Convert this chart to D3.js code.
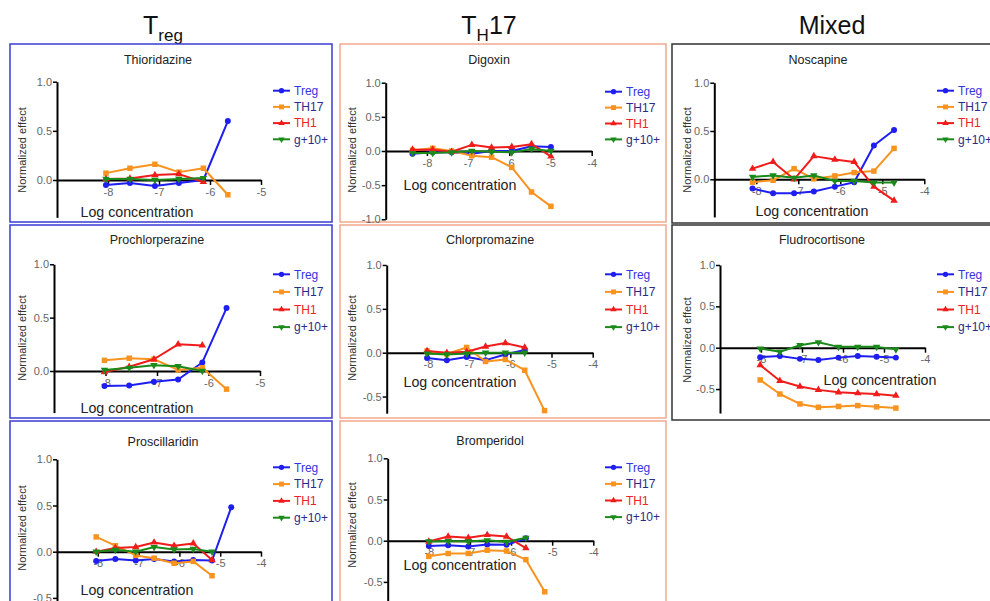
<!DOCTYPE html>
<html>
<head>
<meta charset="utf-8">
<script src="https://cdn.jsdelivr.net/npm/d3@7"></script>
<style>
body { margin: 0; background: #fff; }
text { font-family: "Liberation Sans", Arial, sans-serif; }
</style>
</head>
<body>
<svg id="chart" width="990" height="601"></svg>
<script>
const seriesNames = ["Treg", "TH17", "TH1", "g+10+"];
const drugNames = ["Thioridazine", "Prochlorperazine", "Proscillaridin",
                   "Digoxin", "Chlorpromazine", "Bromperidol",
                   "Noscapine", "Fludrocortisone"];

// log10 concentration of each dose, then one row per series (Treg, TH17, TH1, g+10+)
const thioridazineX = [-8.04, -7.57, -7.08, -6.61, -6.13, -5.65];
const thioridazineY = [
  [-0.05, -0.03, -0.06, -0.03, 0.0, 0.6],
  [0.07, 0.12, 0.16, 0.08, 0.12, -0.15],
  [0.01, 0.015, 0.05, 0.06, -0.02],
  [0.01, 0.01, 0.0, 0.01, 0.02]
];
const prochlorperazineX = [-8.02, -7.54, -7.06, -6.59, -6.12, -5.65];
const prochlorperazineY = [
  [-0.14, -0.135, -0.1, -0.08, 0.08, 0.59],
  [0.1, 0.12, 0.11, 0.01, 0.03, -0.17],
  [-0.01, 0.04, 0.11, 0.25, 0.24],
  [0.01, 0.03, 0.055, 0.045, 0.0]
];
const proscillaridinX = [-8.04, -7.57, -7.07, -6.62, -6.13, -5.66, -5.2, -4.73];
const proscillaridinY = [
  [-0.1, -0.08, -0.095, -0.08, -0.105, -0.09, -0.095, 0.48],
  [0.16, 0.065, -0.04, -0.07, -0.125, -0.105, -0.26],
  [0.0, 0.04, 0.05, 0.1, 0.065, 0.09, -0.09],
  [0.0, 0.02, 0.0, 0.05, 0.025, 0.03, 0.0]
];
const digoxinX = [-8.35, -7.86, -7.4, -6.91, -6.43, -5.94, -5.46, -4.99];
const digoxinY = [
  [-0.04, -0.02, -0.02, -0.04, 0.0, 0.0, 0.07, 0.06],
  [0.01, 0.04, 0.0, -0.07, -0.09, -0.24, -0.6, -0.81],
  [0.02, 0.02, -0.01, 0.09, 0.05, 0.06, 0.1, -0.08],
  [-0.03, -0.03, -0.02, 0.0, -0.01, -0.02, 0.03, 0.0]
];
const chlorpromazineX = [-8.02, -7.54, -7.06, -6.6, -6.12, -5.65, -5.17];
const chlorpromazineY = [
  [-0.06, -0.085, -0.05, -0.085, -0.02, 0.03],
  [0.02, -0.015, 0.06, -0.1, -0.077, -0.2, -0.66],
  [0.02, 0.0, 0.01, 0.07, 0.11, 0.06],
  [-0.01, -0.02, -0.01, 0.0, 0.0, 0.0]
];
const bromperidolX = [-8.0, -7.53, -7.04, -6.58, -6.11, -5.64, -5.18];
const bromperidolY = [
  [-0.065, -0.055, -0.07, -0.045, -0.05, 0.03],
  [-0.19, -0.155, -0.155, -0.115, -0.125, -0.23, -0.62],
  [-0.01, 0.05, 0.035, 0.07, 0.05, -0.09],
  [-0.01, -0.005, -0.01, 0.005, -0.015, 0.035]
];
const noscapineX = [-8.09, -7.6, -7.1, -6.63, -6.13, -5.67, -5.2, -4.72];
const noscapineY = [
  [-0.095, -0.145, -0.145, -0.127, -0.076, -0.03, 0.35, 0.51],
  [-0.03, -0.01, 0.11, 0.005, 0.035, 0.07, 0.085, 0.32],
  [0.11, 0.18, 0.0, 0.24, 0.205, 0.18, -0.076, -0.22],
  [0.025, 0.04, 0.015, 0.04, -0.017, -0.017, -0.034, -0.034]
];
const fludrocortisoneX = [-8.02, -7.54, -7.05, -6.6, -6.11, -5.64, -5.18, -4.71];
const fludrocortisoneY = [
  [-0.115, -0.1, -0.135, -0.15, -0.12, -0.1, -0.11, -0.12],
  [-0.39, -0.56, -0.68, -0.72, -0.71, -0.7, -0.715, -0.73],
  [-0.21, -0.4, -0.47, -0.51, -0.54, -0.55, -0.56, -0.58],
  [-0.01, -0.05, 0.03, 0.065, 0.01, 0.01, 0.01, -0.02]
];

const drugX = [thioridazineX, prochlorperazineX, proscillaridinX, digoxinX,
               chlorpromazineX, bromperidolX, noscapineX, fludrocortisoneX];
const drugY = [thioridazineY, prochlorperazineY, proscillaridinY, digoxinY,
               chlorpromazineY, bromperidolY, noscapineY, fludrocortisoneY];

const lineColors = ["#1e1ef0", "#f7931e", "#f01c1c", "#1b8a1b"];
const legendColors = ["#3535e0", "#2b2b85", "#ee2222", "#2b2b85"];
const markers = [d3.symbolCircle, d3.symbolSquare, d3.symbolTriangle, d3.symbolTriangle];
const markerSizes = [28, 30, 24, 24];
const borderColors = ["#3b3bd6", "#f4a88e", "#333333"];

// panel geometry (pixels), one per drug
const panels = [
  {col: 0, box: [10, 44, 322, 178], ax: 57, xMax: -5, xEnd: 261, yTop: 81.7, yZero: 180, yMin: -0.38,
   title: [158, 64], logLab: [137, 217], yLab: [22, 150], legend: [273, 90.7, 16.2]},
  {col: 0, box: [10, 225, 322, 193], ax: 54, xMax: -5, xEnd: 260, yTop: 264.3, yZero: 371, yMin: -0.39,
   title: [157, 244], logLab: [137, 413], yLab: [22, 338], legend: [273, 274.3, 17.6]},
  {col: 0, box: [10, 421, 322, 200], ax: 57, xMax: -4, xEnd: 261, yTop: 459.3, yZero: 551.7, yMin: -0.55,
   title: [163, 446], logLab: [137, 595], yLab: [22, 528], legend: [273, 467.3, 16.8]},
  {col: 1, box: [340, 44, 326, 178], ax: 385.7, xMax: -4, xEnd: 591.7, yTop: 82.7, yZero: 151, yMin: -1,
   title: [489, 64], logLab: [460, 190], yLab: [352, 150], legend: [605, 91.7, 15.9]},
  {col: 1, box: [340, 225, 326, 193], ax: 386.7, xMax: -4, xEnd: 592.7, yTop: 265, yZero: 352.7, yMin: -0.69,
   title: [490, 244], logLab: [460, 387], yLab: [352, 338], legend: [605, 274.3, 17.6]},
  {col: 1, box: [340, 421, 326, 200], ax: 387.7, xMax: -4, xEnd: 593.3, yTop: 458.3, yZero: 540.7, yMin: -0.74,
   title: [490, 445], logLab: [460, 570], yLab: [352, 525], legend: [605, 467.3, 16.6]},
  {col: 2, box: [672, 44, 330, 179], ax: 714.3, xMax: -4, xEnd: 924.3, yTop: 82.7, yZero: 179.3, yMin: -0.39,
   title: [818, 64], logLab: [812, 216], yLab: [687, 150], legend: [937, 90.7, 16.2]},
  {col: 2, box: [672, 225, 330, 195], ax: 720, xMax: -4, xEnd: 925, yTop: 265, yZero: 347.7, yMin: -0.79,
   title: [822, 244], logLab: [880, 385], yLab: [687, 340], legend: [937, 274.3, 17.6]}
];

const svg = d3.select("#chart");

// column headers
const h1 = svg.append("text").attr("x", 163).attr("y", 34).attr("text-anchor", "middle")
  .attr("font-size", 25).attr("fill", "#111");
h1.append("tspan").text("T");
h1.append("tspan").attr("font-size", 17).attr("dy", 7).text("reg");

const h2 = svg.append("text").attr("x", 489).attr("y", 34).attr("text-anchor", "middle")
  .attr("font-size", 25).attr("fill", "#111");
h2.append("tspan").text("T");
h2.append("tspan").attr("font-size", 17).attr("dy", 7).text("H");
h2.append("tspan").attr("dy", -7).text("17");

svg.append("text").attr("x", 832).attr("y", 34).attr("text-anchor", "middle")
  .attr("font-size", 25).attr("fill", "#111").text("Mixed");

const fmt = d => d.toFixed(1);

panels.forEach((p, i) => {
  const g = svg.append("g");

  g.append("rect")
    .attr("x", p.box[0]).attr("y", p.box[1])
    .attr("width", p.box[2]).attr("height", p.box[3])
    .attr("fill", "none").attr("stroke", borderColors[p.col]).attr("stroke-width", 1.5);

  const x = d3.scaleLinear().domain([-9, p.xMax]).range([p.ax, p.xEnd]);
  const yBottom = p.yZero + (p.yZero - p.yTop) * (-p.yMin);
  const y = d3.scaleLinear().domain([p.yMin, 1]).range([yBottom, p.yTop]);

  g.append("text").attr("x", p.title[0]).attr("y", p.title[1])
    .attr("text-anchor", "middle").attr("font-size", 12.5).attr("fill", "#222")
    .text(drugNames[i]);

  // y axis
  const yAxis = g.append("g").attr("transform", `translate(${p.ax},0)`)
    .call(d3.axisLeft(y)
      .tickValues([1, 0.5, 0, -0.5, -1].filter(v => v >= p.yMin))
      .tickFormat(fmt).tickSize(4).tickSizeOuter(0).tickPadding(1));
  yAxis.select(".domain").attr("stroke", "#000").attr("stroke-width", 2);
  yAxis.selectAll(".tick line").attr("stroke", "#000").attr("stroke-width", 1.5);
  yAxis.selectAll(".tick text").attr("fill", "#666").attr("font-size", 11)
    .attr("font-family", "Liberation Sans, Arial, sans-serif");

  // x axis along zero
  const ticksX = d3.range(-8, p.xMax + 1);
  const xAxis = g.append("g").attr("transform", `translate(0,${y(0)})`)
    .call(d3.axisBottom(x).tickValues(ticksX).tickFormat(d => String(d))
      .tickSize(5).tickSizeOuter(0).tickPadding(3));
  xAxis.select(".domain").attr("stroke", "#000").attr("stroke-width", 2);
  xAxis.selectAll(".tick line").attr("stroke", "#000").attr("stroke-width", 1.5);
  xAxis.selectAll(".tick text").attr("fill", "#666").attr("font-size", 11)
    .attr("font-family", "Liberation Sans, Arial, sans-serif");

  g.append("text").attr("x", p.logLab[0]).attr("y", p.logLab[1])
    .attr("text-anchor", "middle").attr("font-size", 14.2).attr("fill", "#222")
    .text("Log concentration");

  g.append("text")
    .attr("transform", `translate(${p.yLab[0]},${p.yLab[1]}) rotate(-90)`)
    .attr("text-anchor", "middle").attr("dy", "0.35em")
    .attr("font-size", 11).attr("fill", "#333")
    .text("Normalized effect");

  // series
  const line = d3.line().x(d => x(d[0])).y(d => y(d[1]));
  drugY[i].forEach((vals, s) => {
    const pts = vals.map((v, k) => [drugX[i][k], v]);
    g.append("path").datum(pts)
      .attr("d", line).attr("fill", "none")
      .attr("stroke", lineColors[s]).attr("stroke-width", 2)
      .attr("stroke-linejoin", "round");
    g.selectAll(null).data(pts).enter().append("path")
      .attr("d", d3.symbol().type(markers[s]).size(markerSizes[s]))
      .attr("transform", d => `translate(${x(d[0])},${y(d[1])})` + (s === 3 ? " rotate(180)" : ""))
      .attr("fill", lineColors[s]);
  });

  // legend
  seriesNames.forEach((name, s) => {
    const ly = p.legend[1] + s * p.legend[2];
    const lx = p.legend[0];
    g.append("line").attr("x1", lx).attr("x2", lx + 17).attr("y1", ly).attr("y2", ly)
      .attr("stroke", lineColors[s]).attr("stroke-width", 2);
    g.append("path")
      .attr("d", d3.symbol().type(markers[s]).size(markerSizes[s] - 6))
      .attr("transform", `translate(${lx + 8.5},${ly})` + (s === 3 ? " rotate(180)" : ""))
      .attr("fill", lineColors[s]);
    g.append("text").attr("x", lx + 21).attr("y", ly).attr("dy", "0.35em")
      .attr("font-size", 12).attr("fill", legendColors[s]).text(name);
  });
});
</script>
</body>
</html>
